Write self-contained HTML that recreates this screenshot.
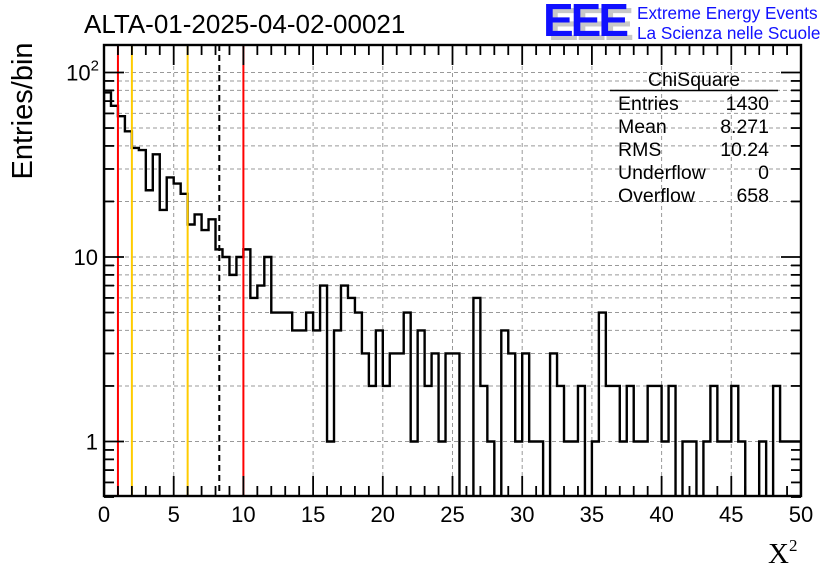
<!DOCTYPE html>
<html><head><meta charset="utf-8"><style>
html,body{margin:0;padding:0;background:#fff}
svg{display:block;font-family:"Liberation Sans",sans-serif}
</style></head><body>
<svg id="c" width="836" height="572" viewBox="0 0 836 572">
<text x="84" y="33" font-size="26">ALTA-01-2025-04-02-00021</text>
<g>
<text x="548" y="40" font-size="46" font-weight="bold" fill="#c8c8c8" letter-spacing="-3">EEE</text>
<text x="543" y="36" font-size="46" font-weight="bold" fill="#1010ff" letter-spacing="-3">EEE</text>
<text x="637" y="19" font-size="17.2" fill="#1010ff">Extreme Energy Events</text>
<text x="637" y="39" font-size="17.2" fill="#1010ff">La Scienza nelle Scuole</text>
</g>
<text transform="translate(32,111) rotate(-90)" text-anchor="middle" font-size="29">Entries/bin</text>
<text x="768" y="563" font-size="29" font-family="Liberation Serif,serif">X<tspan font-size="17" dy="-12">2</tspan></text>
<g id="grid"></g>
<g id="marks"></g>
<g id="axes"></g>
<g font-size="19.5">
<text x="694" y="86" text-anchor="middle">ChiSquare</text>
<line x1="610" y1="90.5" x2="778" y2="90.5" stroke="#000" stroke-width="1.5"/>
<text x="618" y="110">Entries</text><text x="769" y="110" text-anchor="end">1430</text>
<text x="618" y="133">Mean</text><text x="769" y="133" text-anchor="end">8.271</text>
<text x="618" y="156">RMS</text><text x="769" y="156" text-anchor="end">10.24</text>
<text x="618" y="179">Underflow</text><text x="769" y="179" text-anchor="end">0</text>
<text x="618" y="202">Overflow</text><text x="769" y="202" text-anchor="end">658</text>
</g>
</svg>
<script>
const binWidth = 0.5;
const counts = [78,66,58,48,39,38,23,36,18,27,25,22,15,17,14,16,11,10,8,10,
11,6,7,10,5,5,5,4,4,5,4,7,1,4,7,6,5,3,2,4,
2,3,3,5,1,4,2,3,1,3,3,0,0,6,2,1,0,4,3,1,
3,1,1,0,3,2,1,1,2,0,1,5,2,2,1,2,1,1,2,2,
1,2,0,1,1,0,1,2,1,1,2,1,0,0,1,0,2,1,1,1];
const xTicks = [0,5,10,15,20,25,30,35,40,45,50];
const yMajor = [1,10,100];
const yMajorLabels = ["1","10","10²"];
const redLines = [1,10];
const orangeLines = [2,6];
const meanLine = [8.271];

const L=104,R=801,T=45,B=496,yMin=0.5,yMax=100*Math.pow(10,(73-45)/184.5);
const X=v=>L+(v/50)*(R-L);
const Y=v=>{if(v<=0)return B+5;return 441.5-184.5*Math.log10(v);};
const NS="http://www.w3.org/2000/svg";
function mk(tag,attrs,parent){const e=document.createElementNS(NS,tag);for(const k in attrs)e.setAttribute(k,attrs[k]);parent.appendChild(e);return e;}
const grid=document.getElementById('grid'),marks=document.getElementById('marks'),axes=document.getElementById('axes');
const svg=document.getElementById('c');
const defs=mk('defs',{},svg);const cp=mk('clipPath',{id:'pc'},defs);mk('rect',{x:L,y:T,width:R-L,height:B-T},cp);
for(const t of xTicks){if(t===0||t===50)continue;
 const g=mk('line',{x1:X(t),x2:X(t),y1:T,y2:B,stroke:'#999','stroke-dasharray':'4,3','stroke-width':1},grid);
 
 }
for(const d of [1,10,100]){for(let m=1;m<10;m++){const v=d*m;if(v<yMin||v>yMax)continue;
 const g=mk('line',{x1:L,x2:R,y1:Y(v),y2:Y(v),stroke:'#999','stroke-dasharray':'4,3','stroke-width':1},grid);
 
 }}
let d='';counts.forEach((c,i)=>{const x0=X(i*binWidth),x1=X((i+1)*binWidth),y=Y(c);d+=(i===0?'M'+x0+','+(B+5):'')+'L'+x0+','+y+'L'+x1+','+y;});
d+='L'+X(counts.length*binWidth)+','+(B+5);
const h=mk('path',{d:d,fill:'none',stroke:'#000','stroke-width':2.4,'clip-path':'url(#pc)'},marks);


for(const v of redLines){const l=mk('line',{x1:X(v),x2:X(v),y1:T,y2:B,stroke:'#f00','stroke-width':2},marks);
 
 }
for(const v of orangeLines){const l=mk('line',{x1:X(v),x2:X(v),y1:T,y2:B,stroke:'#ffcc00','stroke-width':2},marks);
 
 }
for(const v of meanLine){const l=mk('line',{x1:X(v),x2:X(v),y1:T,y2:B,stroke:'#000','stroke-width':2,'stroke-dasharray':'6,4'},marks);
 
 }
const f=mk('rect',{x:L,y:T,width:R-L,height:B-T,fill:'none',stroke:'#000','stroke-width':2.4},axes);


for(let t=0;t<=50;t+=1){const major=t%5===0,len=major?20:10;
 mk('line',{x1:X(t),x2:X(t),y1:B,y2:B-len,stroke:'#000','stroke-width':1.8},axes);
 mk('line',{x1:X(t),x2:X(t),y1:T,y2:T+len,stroke:'#000','stroke-width':1.8},axes);}
xTicks.forEach(t=>{const tx=mk('text',{x:X(t),y:522,'text-anchor':'middle','font-size':22},axes);tx.textContent=String(t);
 
 });
for(const dd of [0.1,1,10,100]){for(let m=1;m<10;m++){const v=dd*m;if(v<yMin||v>yMax)continue;const major=(m===1),len=major?20:10;
 mk('line',{x1:L,x2:L+len,y1:Y(v),y2:Y(v),stroke:'#000','stroke-width':1.8},axes);
 mk('line',{x1:R,x2:R-len,y1:Y(v),y2:Y(v),stroke:'#000','stroke-width':1.8},axes);}}
yMajor.forEach((v,i)=>{const tx=mk('text',{x:98,y:Y(v)+8,'text-anchor':'end','font-size':22},axes);
 if(v===100){tx.innerHTML='10<tspan font-size="15" dy="-10">2</tspan>';tx.setAttribute('x',99);}else tx.textContent=yMajorLabels[i];
 
 });
</script>
</body></html>
